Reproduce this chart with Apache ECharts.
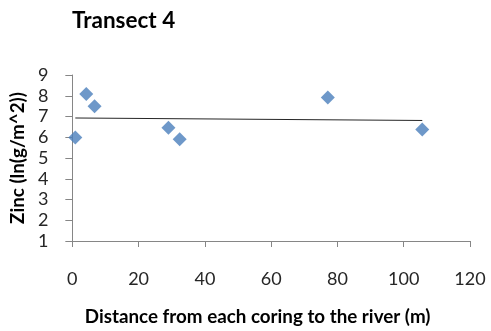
<!DOCTYPE html>
<html>
<head>
<meta charset="utf-8">
<script src="https://cdn.jsdelivr.net/npm/echarts@6/dist/echarts.min.js"></script>
<style>
  html, body { margin: 0; padding: 0; background: #fff; }
  #chart { width: 491px; height: 331px; }
</style>
</head>
<body>
<div id="chart"></div>
<script>
// Coring distance from the river (m) and zinc content (ln(g/m^2))
const distance = [0.9, 4.2, 6.7, 29.0, 32.4, 77.1, 105.6];
const zinc = [5.99, 8.08, 7.49, 6.46, 5.90, 7.92, 6.37];

const xTicks = { min: 0, max: 120, step: 20 };
const yTicks = { min: 1, max: 9, step: 1 };

// Least-squares linear trendline across the sampled distance range
function linearFit(xs, ys) {
  const n = xs.length;
  const mx = xs.reduce((a, b) => a + b, 0) / n;
  const my = ys.reduce((a, b) => a + b, 0) / n;
  let sxy = 0, sxx = 0;
  for (let i = 0; i < n; i++) {
    sxy += (xs[i] - mx) * (ys[i] - my);
    sxx += (xs[i] - mx) * (xs[i] - mx);
  }
  const slope = sxy / sxx;
  return { slope, intercept: my - slope * mx };
}
const fit = linearFit(distance, zinc);
const xStart = Math.min(...distance);
const xEnd = Math.max(...distance);
const trend = [
  [xStart, fit.intercept + fit.slope * xStart],
  [xEnd, fit.intercept + fit.slope * xEnd]
];

const points = distance.map((d, i) => [d, zinc[i]]);

const font = 'Lato, "Open Sans", sans-serif';
const chart = echarts.init(document.getElementById('chart'), null, { renderer: 'canvas' });
chart.setOption({
  animation: false,
  backgroundColor: '#ffffff',
  title: {
    text: 'Transect 4',
    left: 67,
    top: 4,
    textStyle: { fontFamily: font, fontSize: 22.5, fontWeight: 'bold', color: '#000' }
  },
  grid: { left: 72, right: 21, top: 75, bottom: 87 },
  xAxis: {
    type: 'value',
    min: xTicks.min, max: xTicks.max, interval: xTicks.step,
    name: 'Distance from each coring to the river (m)',
    nameLocation: 'middle',
    nameGap: 66,
    nameTextStyle: { fontFamily: font, fontSize: 18.8, fontWeight: 'bold', color: '#000', padding: [0, 27, 0, 0] },
    axisLine: { lineStyle: { color: '#868686', width: 1 } },
    axisTick: { show: true, inside: false, length: 6, lineStyle: { color: '#868686' } },
    axisLabel: { fontFamily: font, fontSize: 18, color: '#262626', margin: 29 },
    splitLine: { show: false }
  },
  yAxis: {
    type: 'value',
    min: yTicks.min, max: yTicks.max, interval: yTicks.step,
    name: 'Zinc (ln(g/m^2))',
    nameLocation: 'middle',
    nameGap: 42,
    nameRotate: 90,
    nameTextStyle: { fontFamily: font, fontSize: 18.8, fontWeight: 'bold', color: '#000' },
    axisLine: { show: true, lineStyle: { color: '#868686', width: 1 } },
    axisTick: { show: true, inside: false, length: 7, lineStyle: { color: '#868686' } },
    axisLabel: { fontFamily: font, fontSize: 18, color: '#262626', margin: 24 },
    splitLine: { show: false }
  },
  series: [
    {
      type: 'line',
      data: trend,
      symbol: 'none',
      lineStyle: { color: '#262626', width: 1 },
      silent: true,
      z: 1
    },
    {
      type: 'scatter',
      data: points,
      symbol: 'diamond',
      symbolSize: 14,
      itemStyle: { color: '#4a7ebb' },
      z: 2
    }
  ]
});
</script>
</body>
</html>
